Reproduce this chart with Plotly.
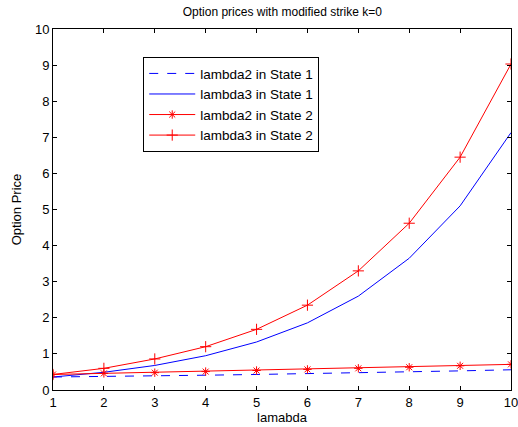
import plotly.graph_objects as go

lam = [1, 2, 3, 4, 5, 6, 7, 8, 9, 10]
l2_s1 = [0.36, 0.37, 0.39, 0.41, 0.43, 0.45, 0.47, 0.50, 0.53, 0.56]
l3_s1 = [0.36, 0.49, 0.68, 0.95, 1.33, 1.86, 2.60, 3.65, 5.10, 7.13]
l2_s2 = [0.43, 0.46, 0.48, 0.51, 0.54, 0.57, 0.60, 0.63, 0.67, 0.71]
l3_s2 = [0.43, 0.60, 0.86, 1.20, 1.68, 2.35, 3.30, 4.62, 6.45, 9.03]

fig = go.Figure()
fig.add_trace(go.Scatter(x=lam, y=l2_s1, mode="lines", name="lambda2 in State 1",
                         line=dict(color="blue", width=1, dash="dash")))
fig.add_trace(go.Scatter(x=lam, y=l3_s1, mode="lines", name="lambda3 in State 1",
                         line=dict(color="blue", width=1)))
fig.add_trace(go.Scatter(x=lam, y=l2_s2, mode="lines+markers", name="lambda2 in State 2",
                         line=dict(color="red", width=1),
                         marker=dict(symbol="asterisk-open", size=7, color="red",
                                     line=dict(color="red", width=1))))
fig.add_trace(go.Scatter(x=lam, y=l3_s2, mode="lines+markers", name="lambda3 in State 2",
                         line=dict(color="red", width=1),
                         marker=dict(symbol="cross-thin-open", size=8, color="red",
                                     line=dict(color="red", width=1))))

axis_common = dict(showgrid=False, zeroline=False, showline=True, linecolor="black",
                   linewidth=1, mirror="ticks", ticks="inside", ticklen=4,
                   tickcolor="black", tickfont=dict(size=13, color="black"),
                   automargin=False, ticklabeloverflow="allow")
fig.update_xaxes(range=[1, 10], dtick=1, title=dict(text="lamabda", font=dict(size=13, color="black"), standoff=4), **axis_common)
fig.update_yaxes(range=[0, 10], dtick=1, title=dict(text="Option Price", font=dict(size=13, color="black"), standoff=10), **axis_common)

fig.update_layout(
    width=518, height=427,
    margin=dict(l=53, r=7, t=29, b=37),
    paper_bgcolor="white", plot_bgcolor="white",
    font=dict(family="Liberation Sans, Arial, sans-serif", size=13, color="black"),
    title=dict(text="Option prices with modified strike k=0", x=0.545, xanchor="center",
               y=0.972, yanchor="middle", font=dict(size=12, color="black")),
    legend=dict(x=0.197, y=0.922, xanchor="left", yanchor="top",
                bordercolor="black", borderwidth=1, bgcolor="white",
                font=dict(size=13.5, color="black"), tracegroupgap=0, itemwidth=46),
    showlegend=True,
)

fig.write_html("out.html")
